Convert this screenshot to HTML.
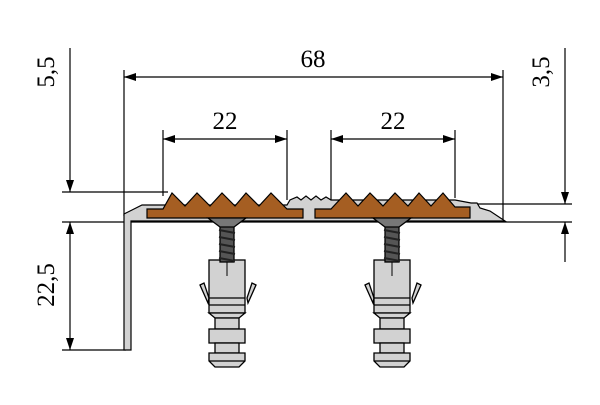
<!DOCTYPE html>
<html><head><style>html,body{margin:0;padding:0;background:#fff}</style></head><body>
<svg width="600" height="400" xmlns="http://www.w3.org/2000/svg" font-family="Liberation Serif, serif">
<defs>
<marker id="a" markerWidth="12" markerHeight="8" refX="12" refY="4" orient="auto-start-reverse" markerUnits="userSpaceOnUse"><path d="M0,0 L12,4 L0,8 Z" fill="#000"/></marker>
<g id="anc" stroke="#000" stroke-width="1.3" fill="#d2d2d2">
<path d="M-28,285 L-24,283 L-19,298 L-20,303 Z"/>
<path d="M28,285 L24,283 L19,298 L20,303 Z"/>
<rect x="-19" y="260" width="36" height="53"/>
<line x1="-19" y1="298" x2="17" y2="298"/><line x1="-19" y1="305" x2="17" y2="305"/>
<path d="M-19,313 L17,313 L11,318 L-13,318 Z"/>
<rect x="-13" y="318" width="24" height="11"/>
<rect x="-19" y="329" width="36" height="14"/>
<rect x="-13" y="343" width="24" height="10"/>
<path d="M-19,353 L17,353 L17,361 L11,367 L-13,367 L-19,361 Z"/>
<line x1="-19" y1="361" x2="17" y2="361"/>
<line x1="-1" y1="262" x2="-1" y2="276" stroke-width="1"/>
<rect x="-8" y="226" width="14" height="36" fill="#555"/>
<path d="M-9,230 L7,233 M-9,237 L7,240 M-9,244 L7,247 M-9,251 L7,254 M-9,258 L7,261" stroke="#222" stroke-width="2"/>
<path d="M-20,218 L18,218 L6,227 L-8,227 Z" fill="#777"/>
</g>
</defs>
<g stroke="#000" stroke-width="1.2" fill="none">
<line x1="124" y1="70" x2="124" y2="216"/><line x1="503" y1="70" x2="503" y2="222"/>
<line x1="124" y1="77" x2="503" y2="77" marker-start="url(#a)" marker-end="url(#a)"/>
<line x1="163" y1="130" x2="163" y2="196"/><line x1="287" y1="130" x2="287" y2="200"/>
<line x1="163" y1="139" x2="287" y2="139" marker-start="url(#a)" marker-end="url(#a)"/>
<line x1="331" y1="130" x2="331" y2="200"/><line x1="455" y1="130" x2="455" y2="198"/>
<line x1="331" y1="139" x2="455" y2="139" marker-start="url(#a)" marker-end="url(#a)"/>
<line x1="62" y1="192" x2="168" y2="192"/>
<line x1="62" y1="222" x2="572" y2="222"/>
<line x1="62" y1="350" x2="126" y2="350"/>
<line x1="470" y1="204" x2="572" y2="204"/>
<line x1="70" y1="48" x2="70" y2="192" marker-end="url(#a)"/>
<line x1="70" y1="222" x2="70" y2="350" marker-start="url(#a)" marker-end="url(#a)"/>
<line x1="565" y1="48" x2="565" y2="204" marker-end="url(#a)"/>
<line x1="565" y1="262" x2="565" y2="222" marker-end="url(#a)"/>
</g>
<path d="M124,350 L124,214 L132,210 L142,205 L163,205 L287,205 L290,200 L297,197 L301,200 L306,196 L311,200 L316,196 L321,200 L326,197 L331,200 L455,200 L471,203 L477,203 L480,208 L490,211 L505,221 L131,221 L131,350 Z" fill="#d2d2d2" stroke="#000" stroke-width="1.2"/>
<path d="M147,209 L163,209 L172,193 L185,206 L197,193 L210,206 L222,193 L235,206 L246,193 L259,206 L271,193 L287,209 L303,209 L303,218 L147,218 Z" fill="#a55e22" stroke="#000" stroke-width="1.2"/>
<path d="M315,209 L331,209 L346,193 L358,206 L370,193 L383,206 L395,193 L408,206 L419,193 L431,206 L443,193 L455,207 L470,207 L470,218 L315,218 Z" fill="#a55e22" stroke="#000" stroke-width="1.2"/>
<use href="#anc" x="228"/><use href="#anc" x="393"/>
<g font-size="25" text-anchor="middle" fill="#000">
<text x="313" y="67">68</text>
<text x="225" y="129">22</text>
<text x="393" y="129">22</text>
<text transform="translate(54,72) rotate(-90)">5,5</text>
<text transform="translate(549,72) rotate(-90)">3,5</text>
<text transform="translate(54,285) rotate(-90)">22,5</text>
</g>
</svg>
</body></html>
